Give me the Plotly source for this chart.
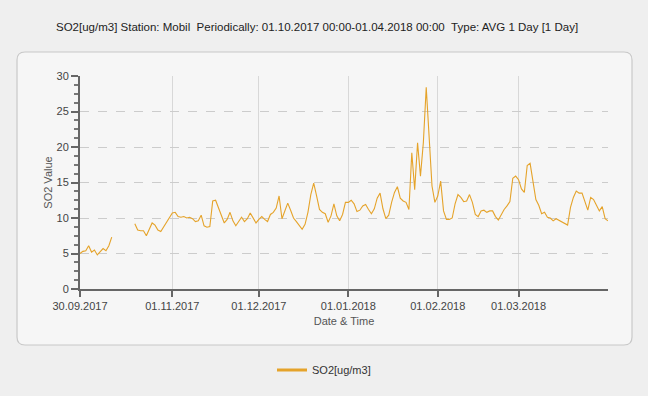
import pandas as pd
import plotly.graph_objects as go

START_DATE = "2017-09-30"
so2_values = [
    5.0, 5.3, 5.4, 6.1, 5.2, 5.5, 4.8, 5.3, 5.7, 5.4, 6.1, 7.3,
    None, None, None, None, None, None, None,
    9.2, 8.3, 8.2, 8.2, 7.5, 8.4, 9.3, 9.0, 8.3, 8.1, 8.8, 9.5,
    10.2, 10.7, 10.8, 10.2, 10.1, 10.2, 10.0, 10.1, 9.9, 9.5, 9.6, 10.4,
    8.9, 8.7, 8.8, 12.4, 12.5, 11.5, 10.3, 9.3, 9.8, 10.8, 9.6, 8.9,
    9.5, 10.1, 9.5, 9.9, 10.7, 9.9, 9.3, 9.8, 10.2, 9.8, 9.5, 10.5,
    10.8, 11.4, 13.1, 9.9, 10.9, 12.1, 11.1, 10.0, 9.5, 9.0, 8.4, 9.1,
    10.8, 13.3, 14.9, 13.1, 11.2, 10.8, 10.6, 9.4, 10.3, 12.0, 10.3, 9.6,
    10.5, 12.2, 12.2, 12.5, 12.0, 10.9, 11.1, 11.7, 11.9, 11.2, 10.6, 11.3,
    12.8, 13.5, 11.3, 9.9, 10.4, 12.2, 13.6, 14.4, 12.8, 12.4, 12.2, 11.2,
    19.2, 14.0, 20.6, 15.9, 20.6, 28.4, 21.0, 14.5, 12.2, 13.1, 15.2, 11.0,
    9.8, 9.8, 10.0, 12.0, 13.3, 12.9, 12.3, 12.4, 13.3, 12.2, 10.5, 10.2,
    11.0, 11.1, 10.8, 11.0, 11.0, 10.2, 9.7, 10.5, 11.2, 11.7, 12.3, 15.6,
    15.9, 15.4, 14.1, 13.6, 17.4, 17.7, 14.8, 12.6, 11.8, 10.6, 10.8, 10.1,
    10.0, 9.6, 9.9, 9.7, 9.4, 9.2, 9.0, 11.5, 12.9, 13.8, 13.5, 13.5,
    12.2, 11.1, 12.9, 12.6, 11.8, 11.0, 11.6, 9.9, 9.6,
]
tick_dates = ["2017-09-30", "2017-11-01", "2017-12-01", "2018-01-01", "2018-02-01", "2018-03-01"]
tick_labels = ["30.09.2017", "01.11.2017", "01.12.2017", "01.01.2018", "01.02.2018", "01.03.2018"]
y_ticks = [0, 5, 10, 15, 20, 25, 30]

dates = pd.date_range(START_DATE, periods=len(so2_values), freq="D")

LINE = "#E5A32A"
FONT = "Arial, Liberation Sans, sans-serif"

fig = go.Figure()
fig.add_trace(go.Scatter(x=dates, y=so2_values, mode="lines", name="SO2[ug/m3]",
                         line=dict(color=LINE, width=1.1), connectgaps=False, showlegend=False))
fig.add_trace(go.Scatter(x=[None], y=[None], mode="lines", name="SO2[ug/m3]",
                         line=dict(color=LINE, width=3), showlegend=True))

W, H = 648, 396
L, R, T, B = 80, 40, 76, 107
pw, ph = W - L - R, H - T - B

def px(xp):
    return (xp - L) / pw

def py(yp):
    return (H - B - yp) / ph

# rounded panel
x0, x1, y0, y1 = px(17), px(632), py(345), py(52)
rx, ry = 8 / pw, 8 / ph
path = (f"M {x0+rx},{y0} L {x1-rx},{y0} Q {x1},{y0} {x1},{y0+ry} L {x1},{y1-ry} "
        f"Q {x1},{y1} {x1-rx},{y1} L {x0+rx},{y1} Q {x0},{y1} {x0},{y1-ry} "
        f"L {x0},{y0+ry} Q {x0},{y0} {x0+rx},{y0} Z")
fig.add_shape(type="path", path=path, xref="paper", yref="paper",
              fillcolor="#f6f6f6", line=dict(color="#c8c8c8", width=1.2), layer="below")

fig.add_annotation(text="SO2[ug/m3] Station: Mobil \u00a0Periodically: 01.10.2017 00:00-01.04.2018 00:00 \u00a0Type: AVG 1 Day [1 Day]",
                   xref="paper", yref="paper", x=px(317), y=py(27), showarrow=False,
                   xanchor="center", yanchor="middle",
                   font=dict(family=FONT, size=11.5, color="#222222"))

fig.update_layout(
    width=W, height=H,
    margin=dict(l=L, r=R, t=T, b=B),
    paper_bgcolor="#efefef",
    plot_bgcolor="#f3f3f3",
    font=dict(family=FONT, size=11, color="#444444"),
    showlegend=True,
    legend=dict(orientation="h", x=px(272), y=py(370), xanchor="left", yanchor="middle",
                bgcolor="rgba(0,0,0,0)", font=dict(family=FONT, size=11, color="#333333"),
                itemwidth=30),
    xaxis=dict(type="date", range=["2017-09-30", "2018-04-01"],
               tickvals=tick_dates, ticktext=tick_labels,
               showgrid=True, gridcolor="#d8d8d8", gridwidth=1,
               showline=True, linecolor="#666666", linewidth=2,
               ticks="outside", ticklen=6, tickwidth=2, tickcolor="#666666",
               tickfont=dict(size=11, color="#444444"),
               title=dict(text="Date & Time", font=dict(size=11, color="#555555"), standoff=6),
               zeroline=False),
    yaxis=dict(range=[0, 30], tickvals=y_ticks,
               showgrid=True, gridcolor="#cccccc", gridwidth=1, griddash="dash",
               showline=True, linecolor="#666666", linewidth=2,
               ticks="outside", ticklen=7, tickwidth=2, tickcolor="#666666",
               minor=dict(dtick=1.25, ticks="outside", ticklen=4, tickwidth=1.5,
                          tickcolor="#777777", showgrid=False),
               tickfont=dict(size=11, color="#444444"),
               title=dict(text="SO2 Value", font=dict(size=11, color="#555555"), standoff=2),
               zeroline=False),
)

fig.write_html("out.html", config={"displayModeBar": False},
               post_script="document.body.style.margin='0';document.body.style.overflow='hidden';")
